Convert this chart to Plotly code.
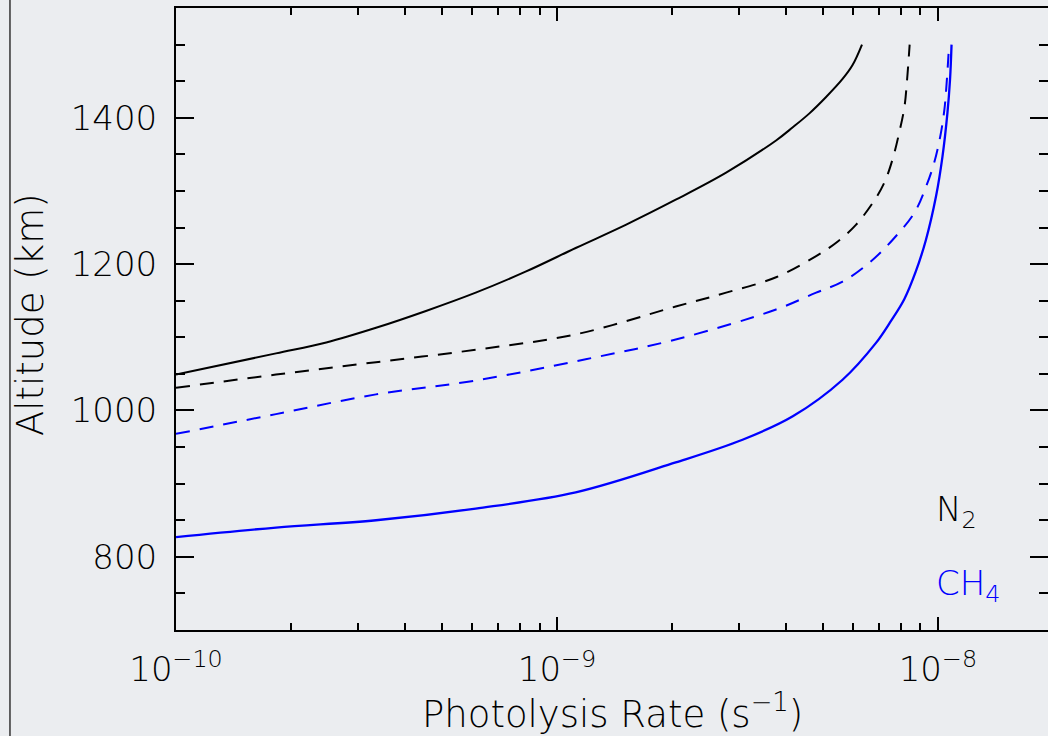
import plotly.graph_objects as go

# ---- data (photolysis rate in s^-1, altitude in km) ----
alt_n2_solid = [1049, 1078, 1093, 1113, 1136, 1161, 1190, 1222, 1254, 1288, 1325, 1369, 1387, 1406, 1428, 1453, 1472, 1500]
rate_n2_solid = [1.0e-10, 1.83e-10, 2.48e-10, 3.35e-10, 4.53e-10, 6.12e-10, 8.30e-10, 1.12e-9, 1.52e-9,
                 2.05e-9, 2.78e-9, 3.76e-9, 4.16e-9, 4.60e-9, 5.08e-9, 5.62e-9, 5.97e-9, 6.32e-9]

alt_n2_dash = [1031, 1049, 1066, 1083, 1104, 1142, 1161, 1182, 1211, 1231, 1254, 1284, 1311, 1343, 1379, 1415, 1452, 1500]
rate_n2_dash = [1.0e-10, 1.83e-10, 3.35e-10, 6.12e-10, 1.12e-9, 2.05e-9, 2.78e-9, 3.76e-9, 4.79e-9, 5.46e-9,
                6.10e-9, 6.75e-9, 7.23e-9, 7.60e-9, 7.91e-9, 8.17e-9, 8.30e-9, 8.43e-9]

alt_ch4_dash = [968, 995, 1022, 1041, 1070, 1097, 1138, 1161, 1176, 1202, 1233, 1270, 1306, 1338, 1374, 1411, 1447, 1500]
rate_ch4_dash = [1.0e-10, 1.83e-10, 3.35e-10, 6.12e-10, 1.19e-9, 2.05e-9, 3.76e-9, 4.79e-9, 5.62e-9, 6.61e-9,
                 7.60e-9, 8.67e-9, 9.31e-9, 9.77e-9, 1.014e-8, 1.040e-8, 1.054e-8, 1.07e-8]

alt_ch4_solid = [827, 840, 850, 866, 888, 929, 960, 992, 1042, 1092, 1120, 1152, 1190, 1233, 1293, 1347, 1406, 1452, 1500]
rate_ch4_solid = [1.0e-10, 1.83e-10, 3.35e-10, 6.12e-10, 1.12e-9, 2.05e-9, 3.07e-9, 4.16e-9, 5.62e-9, 6.87e-9,
                  7.48e-9, 8.16e-9, 8.75e-9, 9.30e-9, 9.89e-9, 1.028e-8, 1.059e-8, 1.076e-8, 1.086e-8]

x_tickvals = [1e-10, 1e-9, 1e-8]
x_ticktext = ["10<sup>\u221210</sup>", "10<sup>\u22129</sup>", "10<sup>\u22128</sup>"]
x_minor = [m * 10.0 ** e for e in (-10, -9) for m in range(2, 10)]
y_tickvals = [800, 1000, 1200, 1400]
y_ticktext = ["800", "1000", "1200", "1400"]

FONT = "DejaVu Sans"
BG = "#EBEDF0"
BLUE = "#0000FF"

fig = go.Figure()
fig.add_trace(go.Scatter(x=rate_n2_solid, y=alt_n2_solid, mode="lines",
                         line=dict(color="black", width=2, shape="spline", smoothing=1.0)))
fig.add_trace(go.Scatter(x=rate_n2_dash, y=alt_n2_dash, mode="lines",
                         line=dict(color="black", width=2, dash="14px,10px", shape="spline", smoothing=1.0)))
fig.add_trace(go.Scatter(x=rate_ch4_dash, y=alt_ch4_dash, mode="lines",
                         line=dict(color=BLUE, width=2, dash="14px,10px", shape="spline", smoothing=1.0)))
fig.add_trace(go.Scatter(x=rate_ch4_solid, y=alt_ch4_solid, mode="lines",
                         line=dict(color=BLUE, width=2.3, shape="spline", smoothing=1.0)))

fig.update_layout(
    width=1048, height=736,
    margin=dict(l=176, r=0, t=8, b=106),
    paper_bgcolor=BG, plot_bgcolor=BG,
    showlegend=False,
    font=dict(family=FONT, color="black", size=34, weight=200),
    xaxis=dict(
        type="log", range=[-10, -7.711], automargin=False,
        tickvals=x_tickvals, ticktext=x_ticktext,
        ticks="inside", ticklen=13, tickwidth=2, tickcolor="black",
        showline=True, linewidth=2, linecolor="black", mirror="allticks",
        showgrid=False, zeroline=False,
        tickfont=dict(size=34, family=FONT, weight=200), ticklabelstandoff=8,
        minor=dict(tickvals=x_minor, ticks="inside", ticklen=7, tickwidth=2, tickcolor="black", showgrid=False),
    ),
    yaxis=dict(
        range=[700, 1550], automargin=False,
        tickvals=y_tickvals, ticktext=y_ticktext,
        ticks="inside", ticklen=18, tickwidth=2, tickcolor="black",
        showline=True, linewidth=2, linecolor="black", mirror="allticks",
        showgrid=False, zeroline=False,
        tickfont=dict(size=34, family=FONT, weight=200), ticklabelstandoff=10,
        minor=dict(dtick=50, tick0=0, ticks="inside", ticklen=9, tickwidth=2, tickcolor="black", showgrid=False),
    ),
)

# axis titles
fig.add_annotation(x=0.5, y=-0.1318, xref="paper", yref="paper", text="Photolysis Rate (s<sup>\u22121</sup>)",
                   showarrow=False, xanchor="center", yanchor="middle",
                   font=dict(size=37, family=FONT, weight=200))
fig.add_annotation(x=-0.1674, y=0.5064, xref="paper", yref="paper", text="Altitude (km)", textangle=-90,
                   showarrow=False, xanchor="center", yanchor="middle",
                   font=dict(size=37, family=FONT, weight=200))

# species labels
fig.add_annotation(x=-8.011, y=862, xref="x", yref="y", text="N<sub>2</sub>", showarrow=False,
                   xanchor="left", yanchor="middle", font=dict(size=34, color="black", family=FONT, weight=200))
fig.add_annotation(x=-8.011, y=761, xref="x", yref="y", text="CH<sub>4</sub>", showarrow=False,
                   xanchor="left", yanchor="middle", font=dict(size=34, color=BLUE, family=FONT, weight=200))

# left border of the framed figure
fig.add_shape(type="line", xref="paper", yref="paper", x0=-0.1904, x1=-0.1904, y0=-0.2, y1=1.02,
              line=dict(color="#333333", width=1.5))

fig.write_html(
    "out.html",
    config={"displayModeBar": False},
    post_script="document.body.style.margin='0';document.body.style.overflow='hidden';"
                "document.body.style.background='" + BG + "';",
)
